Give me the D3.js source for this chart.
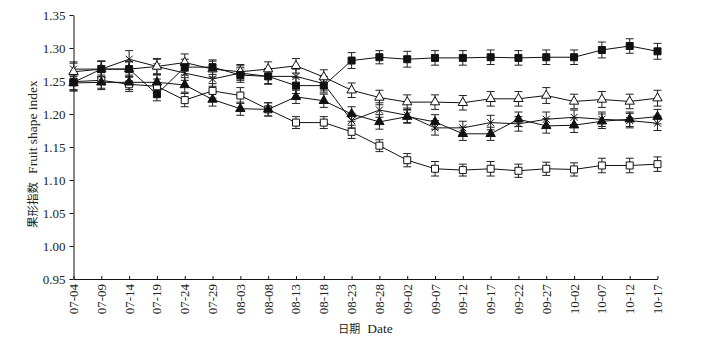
<!DOCTYPE html>
<html>
<head>
<meta charset="utf-8">
<script src="https://cdn.jsdelivr.net/npm/d3@7"></script>
<style>
  html, body { margin: 0; padding: 0; background: #fff; }
  svg { display: block; }
</style>
</head>
<body>
<svg id="fruit-shape-chart" width="706" height="344"></svg>
<script>
// 果形指数 over the season, five treatments, mean ± error
const dates = ["07-04","07-09","07-14","07-19","07-24","07-29","08-03","08-08","08-13","08-18","08-23",
               "08-28","09-02","09-07","09-12","09-17","09-22","09-27","10-02","10-07","10-12","10-17"];

const yTicks = [0.95, 1.00, 1.05, 1.10, 1.15, 1.20, 1.25, 1.30, 1.35];

const squareFilled = [1.248, 1.268, 1.268, 1.230, 1.271, 1.271, 1.259, 1.257, 1.243, 1.243, 1.281,
                      1.286, 1.283, 1.285, 1.285, 1.286, 1.285, 1.286, 1.286, 1.297, 1.303, 1.295];
const squareFilledErr = [0.013, 0.012, 0.012, 0.010, 0.012, 0.011, 0.011, 0.012, 0.012, 0.011, 0.012,
                         0.010, 0.012, 0.011, 0.011, 0.011, 0.011, 0.011, 0.011, 0.012, 0.011, 0.012];

const squareOpen = [1.249, 1.251, 1.245, 1.242, 1.221, 1.235, 1.228, 1.207, 1.187, 1.187, 1.173,
                    1.152, 1.130, 1.117, 1.115, 1.117, 1.114, 1.117, 1.116, 1.122, 1.122, 1.124];
const squareOpenErr = [0.012, 0.012, 0.011, 0.011, 0.010, 0.011, 0.012, 0.010, 0.009, 0.009, 0.010,
                       0.009, 0.010, 0.011, 0.009, 0.011, 0.010, 0.010, 0.010, 0.011, 0.011, 0.011];

const triangleOpen = [1.264, 1.268, 1.268, 1.272, 1.278, 1.268, 1.264, 1.268, 1.273, 1.256, 1.236,
                      1.225, 1.218, 1.218, 1.217, 1.223, 1.223, 1.228, 1.219, 1.222, 1.219, 1.224];
const triangleOpenErr = [0.013, 0.012, 0.011, 0.011, 0.013, 0.012, 0.011, 0.011, 0.011, 0.011, 0.011,
                         0.011, 0.011, 0.011, 0.011, 0.011, 0.011, 0.012, 0.011, 0.012, 0.011, 0.012];

const triangleFilled = [1.247, 1.248, 1.248, 1.248, 1.244, 1.222, 1.208, 1.207, 1.226, 1.220, 1.200,
                        1.188, 1.196, 1.188, 1.170, 1.170, 1.192, 1.182, 1.183, 1.189, 1.192, 1.196];
const triangleFilledErr = [0.012, 0.011, 0.011, 0.011, 0.011, 0.010, 0.010, 0.010, 0.010, 0.010, 0.011,
                           0.011, 0.010, 0.011, 0.010, 0.010, 0.011, 0.011, 0.011, 0.011, 0.011, 0.011];

const crossMark = [1.268, 1.268, 1.283, 1.272, 1.262, 1.253, 1.262, 1.257, 1.257, 1.246, 1.190,
                   1.206, 1.198, 1.179, 1.179, 1.187, 1.185, 1.192, 1.195, 1.192, 1.190, 1.186];
const crossMarkErr = [0.011, 0.012, 0.013, 0.012, 0.011, 0.011, 0.011, 0.011, 0.011, 0.011, 0.011,
                      0.011, 0.011, 0.011, 0.010, 0.011, 0.011, 0.011, 0.011, 0.011, 0.011, 0.011];

(function() {
  const INK = "#111";
  const TEXT = "#222";
  const SERIF = "'Liberation Serif', 'Times New Roman', serif";
  const CJK = "'Noto Sans CJK SC', sans-serif";

  const series = [
    { values: squareOpen, err: squareOpenErr, marker: "squareOpen" },
    { values: triangleFilled, err: triangleFilledErr, marker: "triangleFilled" },
    { values: crossMark, err: crossMarkErr, marker: "cross" },
    { values: triangleOpen, err: triangleOpenErr, marker: "triangleOpen" },
    { values: squareFilled, err: squareFilledErr, marker: "squareFilled" }
  ];

  const svg = d3.select("#fruit-shape-chart");
  const left = 73.5, right = 657.5, top = 15, bottom = 279;

  const x = d3.scalePoint()
    .domain(dates)
    .range([left, right]);

  const y = d3.scaleLinear()
    .domain([0.95, 1.35])
    .range([bottom, top]);

  // y axis
  const yAxis = svg.append("g")
    .attr("transform", `translate(${left},0)`)
    .call(d3.axisLeft(y).tickValues(yTicks).tickSize(4).tickPadding(4).tickFormat(d3.format(".2f")).tickSizeOuter(0));
  yAxis.select(".domain").attr("stroke", INK);
  yAxis.selectAll(".tick line").attr("stroke", INK);
  yAxis.selectAll("text")
    .attr("font-family", SERIF)
    .attr("font-size", 13)
    .attr("fill", TEXT);

  // x axis, ticks pointing up into the plot
  const xAxis = svg.append("g")
    .attr("transform", `translate(0,${bottom})`)
    .call(d3.axisBottom(x).tickSize(-3).tickSizeOuter(0).tickFormat(""));
  xAxis.select(".domain").attr("stroke", INK);
  xAxis.selectAll(".tick line").attr("stroke", INK);

  svg.append("g")
    .selectAll("text")
    .data(dates)
    .join("text")
    .attr("transform", d => `translate(${x(d) + 4.5},${bottom + 5}) rotate(-90)`)
    .attr("text-anchor", "end")
    .attr("font-family", SERIF)
    .attr("font-size", 13)
    .attr("fill", TEXT)
    .text(d => d);

  // axis titles: CJK part smaller, Latin part in serif
  const xTitle = svg.append("text")
    .attr("x", (left + right) / 2)
    .attr("y", 333)
    .attr("text-anchor", "middle")
    .attr("fill", TEXT);
  xTitle.append("tspan").attr("font-family", CJK).attr("font-size", 11).text("日期");
  xTitle.append("tspan").attr("font-family", SERIF).attr("font-size", 13.5).attr("dx", 7).text("Date");

  const yTitle = svg.append("text")
    .attr("transform", `translate(37,${(top + bottom) / 2 + 7}) rotate(-90)`)
    .attr("text-anchor", "middle")
    .attr("fill", TEXT);
  yTitle.append("tspan").attr("font-family", CJK).attr("font-size", 11.5).text("果形指数");
  yTitle.append("tspan").attr("font-family", SERIF).attr("font-size", 13.5).attr("dx", 8).text("Fruit shape index");

  const line = d3.line()
    .x((d, i) => x(dates[i]))
    .y(d => y(d));

  const plot = svg.append("g");

  // lines
  plot.selectAll("path.series")
    .data(series)
    .join("path")
    .attr("class", "series")
    .attr("fill", "none")
    .attr("stroke", INK)
    .attr("stroke-width", 1)
    .attr("d", s => line(s.values));

  // error bars
  const cap = 4;
  series.forEach(s => {
    const g = plot.append("g")
      .attr("stroke", "#222")
      .attr("stroke-width", 1);
    const pts = s.values.map((v, i) => ({ cx: x(dates[i]), lo: y(v - s.err[i]), hi: y(v + s.err[i]) }));
    g.selectAll("line.bar").data(pts).join("line").attr("class", "bar")
      .attr("x1", d => d.cx).attr("x2", d => d.cx)
      .attr("y1", d => d.lo).attr("y2", d => d.hi);
    g.selectAll("line.top").data(pts).join("line").attr("class", "top")
      .attr("x1", d => d.cx - cap).attr("x2", d => d.cx + cap)
      .attr("y1", d => d.hi).attr("y2", d => d.hi);
    g.selectAll("line.bot").data(pts).join("line").attr("class", "bot")
      .attr("x1", d => d.cx - cap).attr("x2", d => d.cx + cap)
      .attr("y1", d => d.lo).attr("y2", d => d.lo);
  });

  // markers
  const sq = d3.symbol().type(d3.symbolSquare).size(49)();
  const tri = d3.symbol().type(d3.symbolTriangle).size(38)();
  const cross = "M-3.5,-3.5L3.5,3.5M-3.5,3.5L3.5,-3.5";

  series.forEach(s => {
    const g = plot.append("g");
    const sel = g.selectAll("path")
      .data(s.values)
      .join("path")
      .attr("transform", (d, i) => `translate(${x(dates[i])},${y(d)})`)
      .attr("stroke", INK)
      .attr("stroke-width", 1);
    if (s.marker === "squareFilled") sel.attr("d", sq).attr("fill", INK);
    if (s.marker === "squareOpen") sel.attr("d", sq).attr("fill", "#fff");
    if (s.marker === "triangleFilled") sel.attr("d", tri).attr("fill", INK);
    if (s.marker === "triangleOpen") sel.attr("d", tri).attr("fill", "#fff");
    if (s.marker === "cross") sel.attr("d", cross).attr("fill", "none");
  });
})();
</script>
</body>
</html>
